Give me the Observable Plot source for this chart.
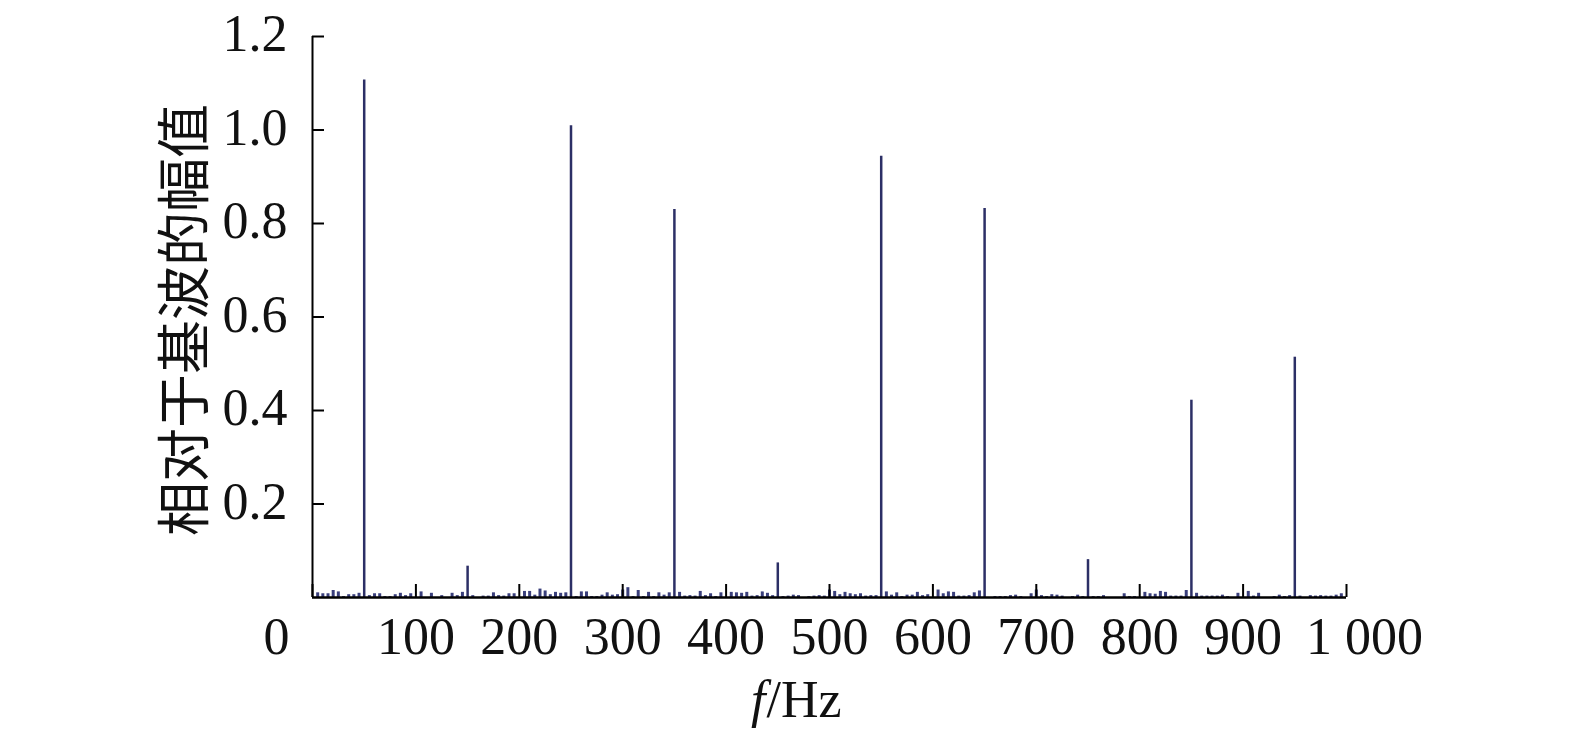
<!DOCTYPE html>
<html>
<head>
<meta charset="utf-8">
<script src="https://cdn.jsdelivr.net/npm/d3@7"></script>
<script src="https://cdn.jsdelivr.net/npm/@observablehq/plot@0.6"></script>
<style>
  html, body { margin: 0; padding: 0; background: #fff; }
  #chart svg { display: block; }
</style>
</head>
<body>
<div id="chart"></div>
<script>
// Harmonic spikes (Hz, relative amplitude)
const spikeFreq = [50, 150, 250, 350, 450, 550, 650, 750, 850, 950];
const spikeAmp  = [1.107, 0.067, 1.009, 0.830, 0.074, 0.944, 0.832, 0.081, 0.422, 0.514];

// Small inter-harmonic components
const noiseFreq = [5,10,15,20,25,30,35,40,45,55,60,65,70,75,80,85,90,95,105,115,125,135,140,145,
  155,165,170,175,180,185,190,195,205,210,215,220,225,230,235,240,245,255,260,265,270,275,280,285,290,295,
  300,305,310,315,320,325,330,335,340,345,355,360,365,370,375,380,385,390,395,405,410,415,420,425,430,435,440,445,
  455,460,465,470,480,485,490,495,500,505,510,515,520,525,530,535,540,545,555,560,565,570,575,580,585,590,595,
  605,610,615,620,625,630,635,640,645,660,665,670,675,680,685,695,700,705,710,715,720,725,735,740,745,
  755,760,765,785,790,795,805,810,815,820,825,830,835,840,845,855,860,865,870,875,880,885,895,
  905,910,915,930,935,940,945,955,965,970,975,980,985,990,995];
const noiseAmp = [0.010,0.008,0.008,0.015,0.012,0.002,0.006,0.006,0.009,0.004,0.008,0.008,0.002,0.002,0.006,0.009,0.004,0.008,0.012,0.009,0.004,0.009,0.004,0.011,
  0.004,0.003,0.003,0.010,0.004,0.003,0.008,0.008,0.013,0.013,0.005,0.018,0.014,0.006,0.011,0.009,0.010,0.002,0.012,0.012,0.002,0.002,0.005,0.010,0.005,0.006,
  0.016,0.021,0.002,0.015,0.002,0.011,0.002,0.010,0.005,0.010,0.011,0.003,0.004,0.003,0.013,0.004,0.008,0.002,0.010,0.011,0.010,0.009,0.011,0.003,0.004,0.012,0.009,0.004,
  0.002,0.003,0.005,0.004,0.002,0.003,0.004,0.003,0.016,0.013,0.006,0.011,0.008,0.006,0.008,0.003,0.004,0.004,0.012,0.005,0.010,0.002,0.005,0.005,0.011,0.004,0.006,
  0.016,0.008,0.012,0.011,0.003,0.003,0.004,0.010,0.014,0.002,0.002,0.002,0.004,0.005,0.002,0.008,0.016,0.004,0.002,0.006,0.005,0.003,0.002,0.005,0.002,
  0.002,0.002,0.004,0.008,0.002,0.002,0.011,0.008,0.007,0.013,0.011,0.003,0.003,0.003,0.015,0.009,0.003,0.003,0.003,0.003,0.005,0.002,0.009,
  0.013,0.003,0.009,0.002,0.005,0.002,0.004,0.003,0.004,0.003,0.004,0.003,0.003,0.005,0.008];

const xTicks = [0, 100, 200, 300, 400, 500, 600, 700, 800, 900, 1000];
const xTickLabels = ["0", "100", "200", "300", "400", "500", "600", "700", "800", "900", "1 000"];
const yTicks = [0.2, 0.4, 0.6, 0.8, 1.0, 1.2];
const yTickLabels = ["0.2", "0.4", "0.6", "0.8", "1.0", "1.2"];
const yLabel = "相对于基波的幅值";
const xLabelItalic = "f";
const xLabelRest = "/Hz";

const spikes = spikeFreq.map((f, i) => ({f, a: spikeAmp[i]}));
const noise = noiseFreq.map((f, i) => ({f, a: noiseAmp[i]}));
const xLab = xTicks.map((v, i) => ({v, t: xTickLabels[i]}));
const yLab = yTicks.map((v, i) => ({v, t: yTickLabels[i]}));

const serif = "'Liberation Serif', 'Times New Roman', serif";
const numSize = 52;

const chart = Plot.plot({
  width: 1575,
  height: 742,
  marginLeft: 312,
  marginRight: 229,
  marginTop: 36,
  marginBottom: 145,
  x: {domain: [0, 1000], axis: null},
  y: {domain: [0, 1.2], axis: null},
  marks: [
    Plot.ruleX(noise, {x: "f", y1: 0, y2: "a", stroke: "#3a3f7c", strokeWidth: 3}),
    Plot.ruleX(spikes, {x: "f", y1: 0, y2: "a", stroke: "#2c2f66", strokeWidth: 2.5}),
    Plot.axisX({ticks: xTicks, tickSize: -13, tickFormat: () => "", label: null, stroke: "#000", strokeWidth: 2}),
    Plot.axisY({ticks: yTicks, tickSize: -12, tickFormat: () => "", label: null, stroke: "#000", strokeWidth: 2}),
    Plot.ruleY([0], {stroke: "#000", strokeWidth: 2.5}),
    Plot.ruleX([0], {stroke: "#000", strokeWidth: 2}),
    // x tick labels
    Plot.text(xLab.slice(1, -1), {x: "v", text: "t", frameAnchor: "bottom", dy: 56, fontSize: numSize, fontFamily: serif, fill: "#111"}),
    Plot.text(xLab.slice(0, 1), {x: "v", text: "t", frameAnchor: "bottom", dy: 56, dx: -36, fontSize: numSize, fontFamily: serif, fill: "#111"}),
    Plot.text(xLab.slice(-1), {x: "v", text: "t", frameAnchor: "bottom", dy: 56, dx: 18, fontSize: numSize, fontFamily: serif, fill: "#111"}),
    // y tick labels
    Plot.text(yLab, {y: "v", text: "t", frameAnchor: "left", dx: -25, dy: -2, textAnchor: "end", fontSize: numSize, fontFamily: serif, fill: "#111"}),
    // axis titles
    Plot.text([yLabel], {frameAnchor: "left", dx: -126, dy: 3, rotate: -90, textAnchor: "middle", lineAnchor: "middle", fontSize: 54, fontFamily: "'Noto Sans CJK SC', sans-serif", fill: "#111"}),
    Plot.text([xLabelItalic], {frameAnchor: "bottom", dx: -64, dy: 119, textAnchor: "end", fontSize: numSize, fontStyle: "italic", fontFamily: serif, fill: "#111"}),
    Plot.text([xLabelRest], {frameAnchor: "bottom", dx: -63, dy: 119, textAnchor: "start", fontSize: numSize, fontFamily: serif, fill: "#111"})
  ]
});
document.getElementById("chart").append(chart);
</script>
</body>
</html>
